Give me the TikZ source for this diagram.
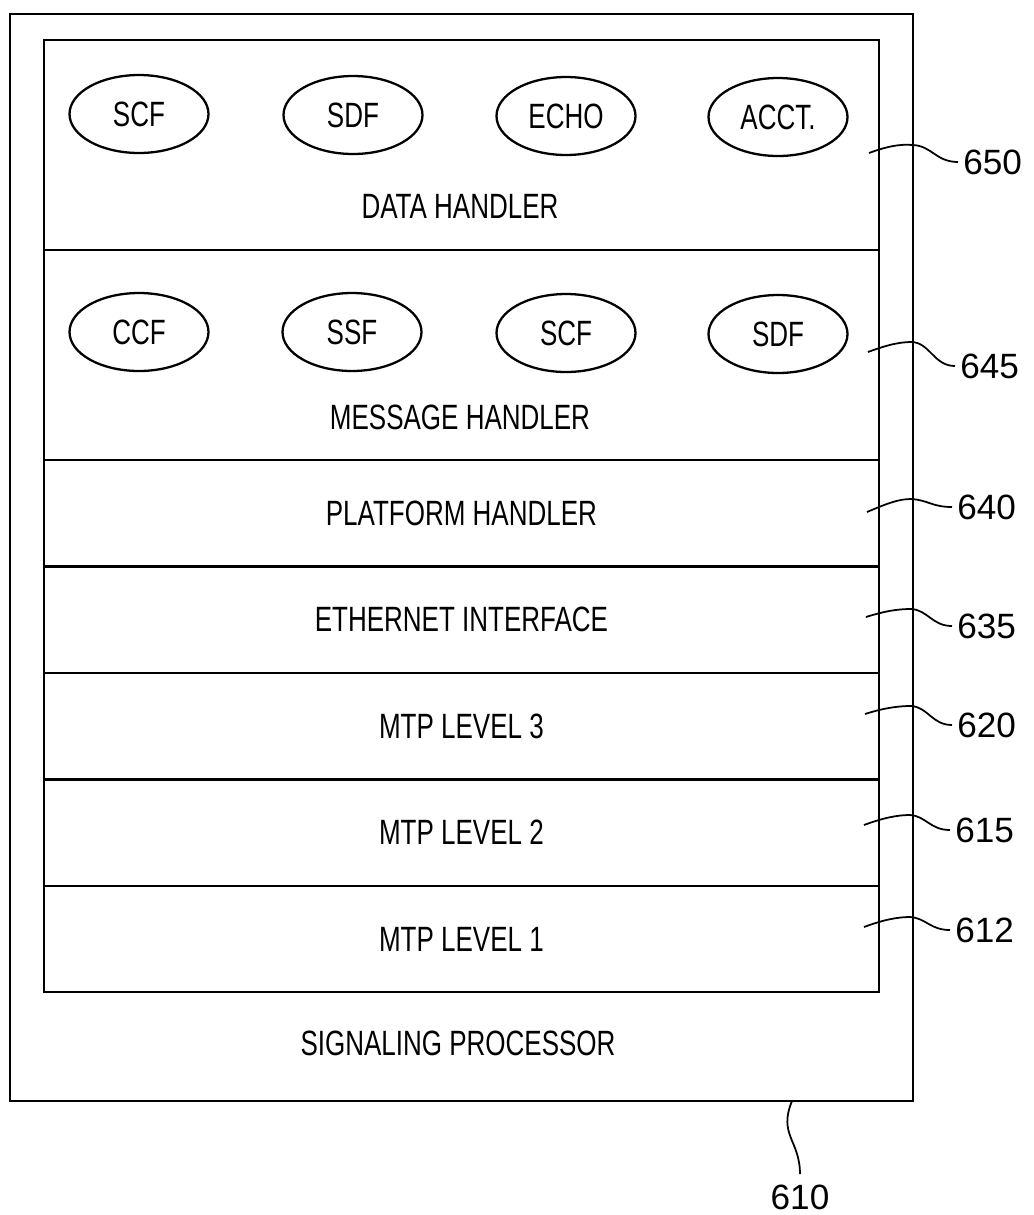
\documentclass[tikz,border=0pt]{standalone}
\usepackage{fontspec}
\newfontfamily\narrowfont[FakeStretch=0.74]{Liberation Sans}
\newfontfamily\refnumfont{Liberation Sans}
\usetikzlibrary{shapes.geometric, positioning}

\begin{document}
\begin{tikzpicture}[
    x=0.02cm, y=-0.02cm,
    node distance=0pt,
    every node/.style={font=\narrowfont\fontsize{20}{24}\selectfont},
    frame/.style={rectangle, draw, line width=1.3pt, minimum width=18.06cm,
                  minimum height=21.74cm, inner sep=0pt, outer sep=0pt},
    layer/.style={rectangle, draw, line width=1.3pt, minimum width=16.7cm,
                  minimum height=2.13cm, inner sep=0pt, outer sep=0pt},
    func/.style={ellipse, draw, line width=1.3pt, minimum width=2.78cm,
                 minimum height=1.56cm, inner sep=0pt},
    refnum/.style={font=\refnumfont\fontsize{20}{24}\selectfont, inner sep=0.1cm},
    lead/.style={line width=1pt},
]
\useasboundingbox (0,0) rectangle (1034,1215);

% signaling processor and its stack
\node[frame, anchor=north west] (sp) at (10,14) {};
\node at (458,1043) (sptext) {SIGNALING PROCESSOR};

\node[layer, minimum height=4.2cm, anchor=north west] (l650) at (44,40) {};
\node[layer, minimum height=4.2cm, below=of l650] (l645) {};
\node[layer, below=of l645] (l640) {PLATFORM HANDLER};
\node[layer, below=of l640] (l635) {ETHERNET INTERFACE};
\node[layer, below=of l635] (l620) {MTP LEVEL 3};
\node[layer, below=of l620] (l615) {MTP LEVEL 2};
\node[layer, below=of l615] (l612) {MTP LEVEL 1};

% data handler
\node[func] (dscf) at (139,114) {SCF};
\node[func] (dsdf) at (353,115) {SDF};
\node[func] (decho) at (566,116) {ECHO};
\node[func] (dacct) at (778,117) {ACCT.};
\node at (460,206) (dtext) {DATA HANDLER};

% message handler
\node[func] (mccf) at (139,332) {CCF};
\node[func] (mssf) at (352,332) {SSF};
\node[func] (mscf) at (566,333) {SCF};
\node[func] (msdf) at (778,334) {SDF};
\node at (460,417) (mtext) {MESSAGE HANDLER};

% reference numerals
\node[refnum, anchor=west] (n650) at (958,162) {650};
\node[refnum, anchor=west] (n645) at (955,366) {645};
\node[refnum, anchor=west] (n640) at (952,507) {640};
\node[refnum, anchor=west] (n635) at (952,626) {635};
\node[refnum, anchor=west] (n620) at (952,725) {620};
\node[refnum, anchor=west] (n615) at (950,830) {615};
\node[refnum, anchor=west] (n612) at (950,930) {612};
\node[refnum, inner sep=0.2cm] (n610) at (800,1197) {610};

\coordinate (s650) at (869,153);
\coordinate (s645) at (868,352);
\coordinate (s640) at (867,512);
\coordinate (s635) at (866,617);
\coordinate (s620) at (865,714);
\coordinate (s615) at (864,825);
\coordinate (s612) at (864,927);
\coordinate (s610) at (792,1101);

\draw[lead] (s650) .. controls (888,146) and (900,144) .. (913,145) .. controls (932,146) and (936,162) .. (n650.west);
\draw[lead] (s645) .. controls (887,345) and (899,342) .. (912,342) .. controls (930,343) and (934,366) .. (n645.west);
\draw[lead] (s640) .. controls (886,504) and (898,499) .. (911,499) .. controls (928,500) and (932,507) .. (n640.west);
\draw[lead] (s635) .. controls (885,611) and (898,609) .. (911,609) .. controls (928,610) and (932,626) .. (n635.west);
\draw[lead] (s620) .. controls (884,708) and (898,706) .. (911,706) .. controls (928,707) and (932,725) .. (n620.west);
\draw[lead] (s615) .. controls (883,818) and (897,815) .. (910,815) .. controls (926,816) and (930,830) .. (n615.west);
\draw[lead] (s612) .. controls (883,920) and (897,917) .. (910,917) .. controls (926,918) and (930,930) .. (n612.west);
\draw[lead] (s610) .. controls (778,1135) and (800,1140) .. (n610.north);
\end{tikzpicture}
\end{document}
